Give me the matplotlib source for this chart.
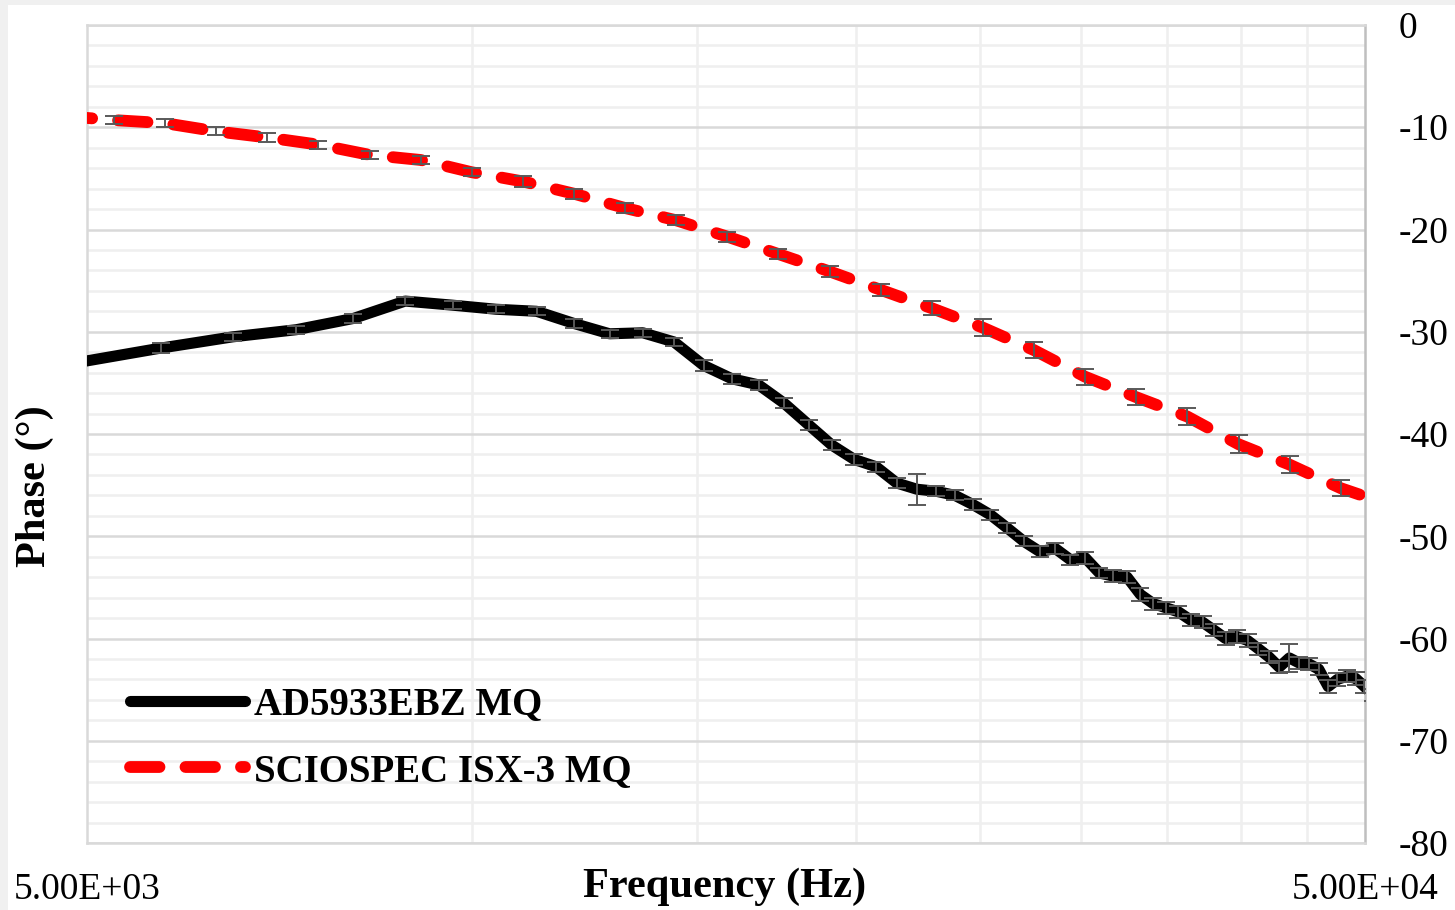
"""Phase vs frequency for the AD5933EBZ and SCIOSPEC ISX-3 on the MQ sample."""

import matplotlib

matplotlib.use("Agg")
import matplotlib.pyplot as plt
from matplotlib.patches import Rectangle
from matplotlib.ticker import FixedLocator, NullFormatter

# AD5933EBZ sweep (linear steps, Hz) and measured phase (deg)
ad_freq = [
    4920, 5710, 6500, 7290, 8080, 8870, 9660, 10450, 11240, 12030,
    12820, 13610, 14400, 15190, 15980, 16770, 17560, 18350, 19140, 19930,
    20720, 21510, 22300, 23090, 23880, 24670, 25460, 26250, 27040, 27830,
    28620, 29410, 30200, 30990, 31780, 32570, 33360, 34150, 34940, 35730,
    36520, 37310, 38100, 38890, 39680, 40470, 41260, 42050, 42840, 43630,
    44420, 45210, 46000, 46790, 47580, 48370, 49160, 49950, 50740,
]
ad_phase = [
    -33.0, -31.6, -30.5, -29.8, -28.7, -27.0, -27.4, -27.8, -28.0, -29.2,
    -30.2, -30.1, -31.0, -33.3, -34.6, -35.2, -37.0, -39.1, -41.1, -42.5,
    -43.2, -44.8, -45.4, -45.6, -46.0, -46.9, -47.9, -49.2, -50.5, -51.5,
    -51.2, -52.3, -52.1, -53.6, -53.9, -54.0, -55.7, -56.6, -57.0, -57.4,
    -58.2, -58.4, -59.2, -60.0, -59.8, -60.2, -61.0, -61.8, -62.8, -61.9,
    -62.4, -62.5, -63.0, -64.7, -64.0, -63.7, -63.9, -64.7, -65.5,
]
ad_err = [
    0.5, 0.5, 0.4, 0.4, 0.4, 0.4, 0.4, 0.4, 0.4, 0.4,
    0.4, 0.4, 0.4, 0.5, 0.5, 0.5, 0.5, 0.5, 0.5, 0.5,
    0.5, 0.5, 1.5, 0.5, 0.5, 0.5, 0.5, 0.5, 0.5, 0.5,
    0.5, 0.5, 0.6, 0.5, 0.6, 0.6, 0.6, 0.6, 0.6, 0.6,
    0.6, 0.6, 0.6, 0.6, 0.6, 0.6, 0.6, 0.6, 0.6, 1.4,
    0.6, 0.6, 0.6, 0.6, 0.6, 0.6, 0.6, 0.6, 0.6,
]

# SCIOSPEC ISX-3 sweep (log steps, Hz) and measured phase (deg)
isx_freq = [
    4786, 5248, 5754, 6310, 6918, 7586, 8318, 9120, 10000, 10965,
    12023, 13183, 14454, 15849, 17378, 19055, 20893, 22909, 25119, 27542,
    30200, 33113, 36308, 39811, 43652, 47863, 52481,
]
isx_phase = [
    -8.9, -9.3, -9.6, -10.4, -11.0, -11.7, -12.7, -13.2, -14.4, -15.3,
    -16.5, -17.9, -19.1, -20.7, -22.4, -24.1, -25.9, -27.7, -29.6, -31.8,
    -34.4, -36.4, -38.3, -41.0, -43.0, -45.3, -47.0,
]
isx_err = [
    0.4, 0.4, 0.4, 0.4, 0.4, 0.4, 0.4, 0.4, 0.4, 0.5,
    0.5, 0.5, 0.5, 0.5, 0.5, 0.5, 0.6, 0.7, 0.8, 0.8,
    0.8, 0.8, 0.8, 0.9, 0.8, 0.8, 0.8,
]

x_ticks = [5000, 50000]
x_tick_labels = ["5.00E+03", "5.00E+04"]
x_minor = [10000, 15000, 20000, 25000, 30000, 35000, 40000, 45000]
y_ticks = [0, -10, -20, -30, -40, -50, -60, -70, -80]

serif = ["Liberation Serif", "DejaVu Serif"]
plt.rcParams["font.family"] = serif
plt.rcParams["axes.unicode_minus"] = False

W, H = 1455, 910
fig = plt.figure(figsize=(W / 100, H / 100), dpi=100)
fig.patch.set_facecolor("#f0f0f0")
fig.patches.append(
    Rectangle((8 / W, 0), 1, 1 - 5 / H, transform=fig.transFigure,
              facecolor="white", edgecolor="none", zorder=-5)
)

ax = fig.add_axes([87 / W, 1 - 843 / H, 1278 / W, 818 / H])
ax.set_xscale("log")
ax.set_xlim(5000, 50000)
ax.set_ylim(-80, 0)

# series lines
ax.plot(ad_freq, ad_phase, color="black", lw=8, solid_capstyle="round",
        solid_joinstyle="round", zorder=3, label="AD5933EBZ MQ")
ax.plot(isx_freq, isx_phase, color="#ff0000", lw=8.5, linestyle=(0, (2.5, 2.2)),
        dash_capstyle="round", zorder=3, label="SCIOSPEC ISX-3 MQ")

# error bars on top, Excel style
ax.errorbar(ad_freq, ad_phase, yerr=ad_err, fmt="none", ecolor="#595959",
            elinewidth=1.4, capsize=6.5, capthick=1.4, zorder=4)
ax.errorbar(isx_freq, isx_phase, yerr=isx_err, fmt="none", ecolor="#595959",
            elinewidth=1.4, capsize=6.5, capthick=1.4, zorder=4)

# ticks
ax.xaxis.set_major_locator(FixedLocator(x_ticks))
ax.set_xticklabels(x_tick_labels)
ax.xaxis.set_minor_locator(FixedLocator(x_minor))
ax.xaxis.set_minor_formatter(NullFormatter())
ax.set_yticks(y_ticks)
ax.yaxis.set_minor_locator(FixedLocator(range(-78, 0, 2)))
ax.yaxis.tick_right()
ax.tick_params(axis="both", which="both", length=0)
ax.tick_params(axis="x", labelsize=27, pad=21)
ax.tick_params(axis="y", labelsize=27, pad=24)

# gridlines
ax.grid(which="minor", color="#efefef", lw=1.8)
ax.grid(which="major", axis="y", color="#d9d9d9", lw=1.8)
ax.set_axisbelow(True)
for name, spine in ax.spines.items():
    spine.set_color("#d9d9d9")
    spine.set_linewidth(1.8)
ax.spines["right"].set_color("#bfbfbf")

# axis titles
ax.set_xlabel("Frequency (Hz)", fontsize=30.5, fontweight="bold", va="center")
ax.xaxis.set_label_coords((725 - 87) / 1278, (843 - 887) / 818)
ax.yaxis.set_label_position("left")
ax.set_ylabel("Phase (°)", fontsize=30.5, fontweight="bold", va="center", ha="center")
ax.yaxis.set_label_coords((35 - 87) / 1278, (843 - 486) / 818)

leg = ax.legend(loc="center left", bbox_to_anchor=((130 - 87) / 1278, (843 - 738) / 818),
                frameon=False, borderpad=0, borderaxespad=0, handlelength=2.95,
                handletextpad=0.25, labelspacing=0.75,
                prop={"family": serif, "weight": "bold", "size": 28})

plt.savefig("out.png", dpi=100)
plt.close()
